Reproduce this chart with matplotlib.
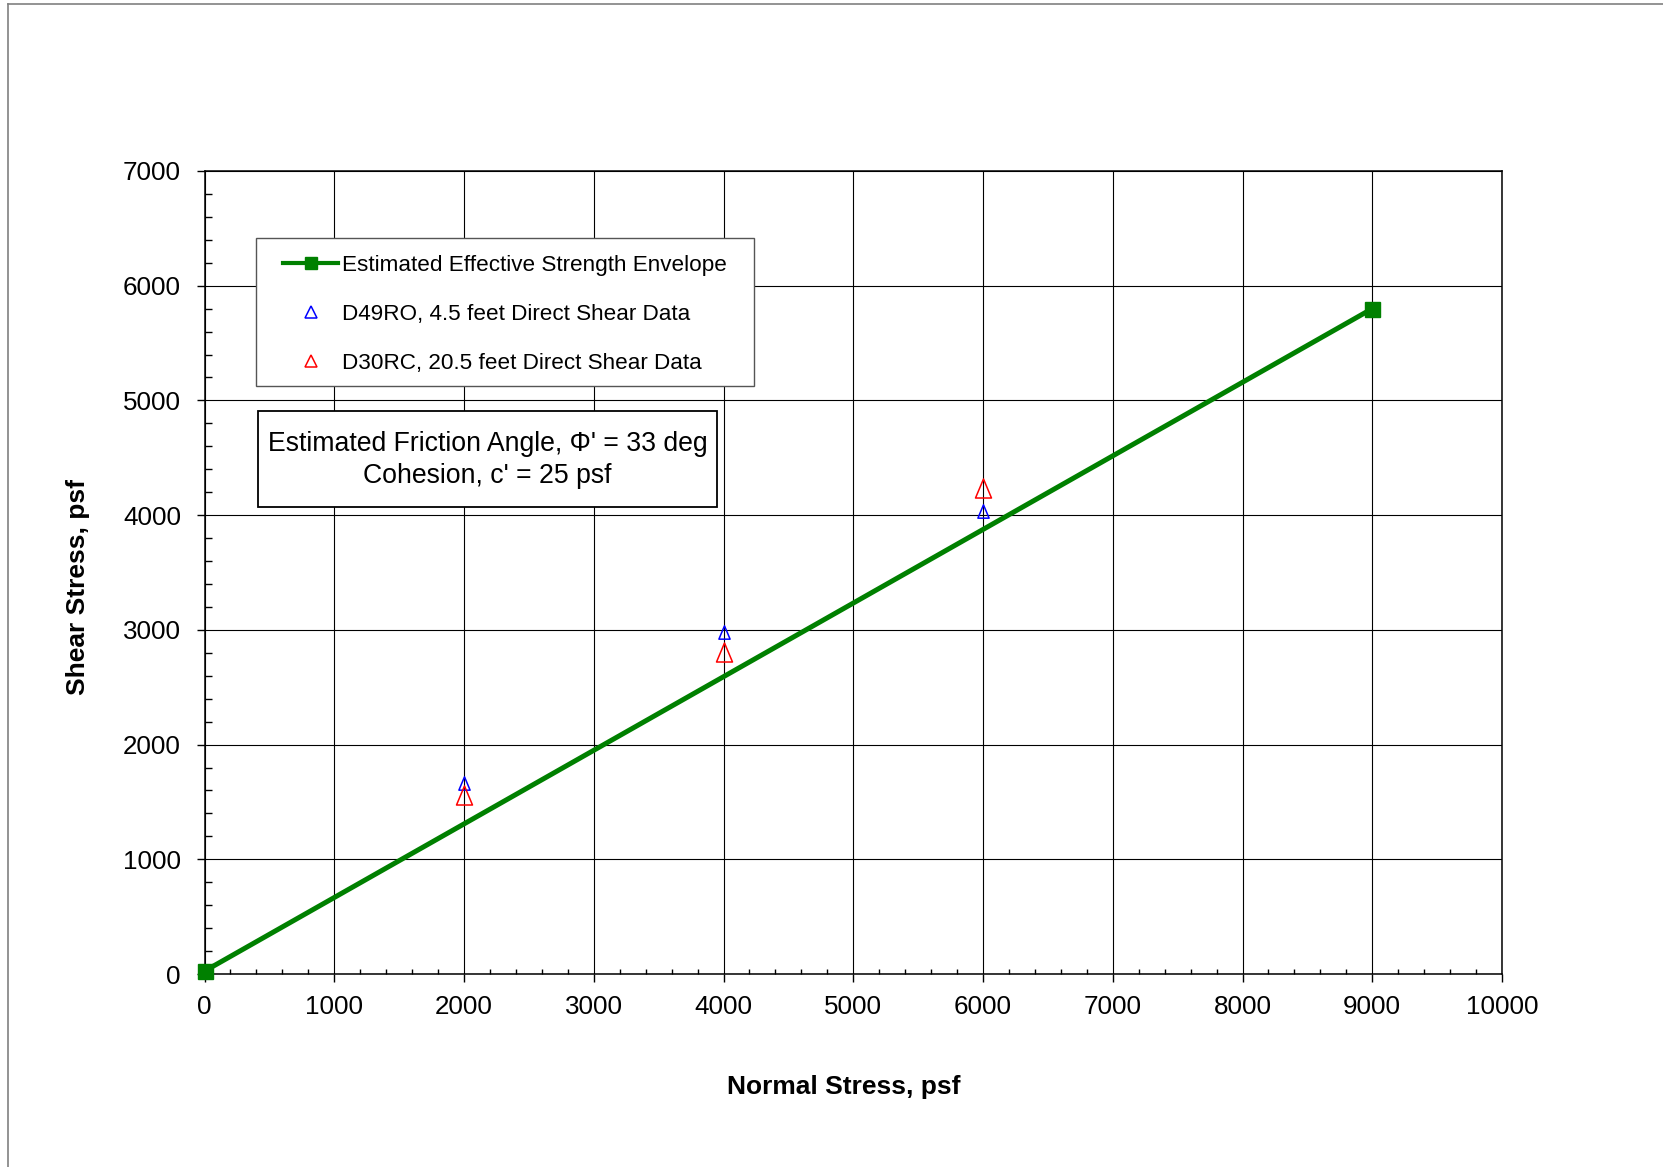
import matplotlib
matplotlib.use("Agg")
import matplotlib.pyplot as plt
from matplotlib.lines import Line2D
from matplotlib.patches import Rectangle
from matplotlib.path import Path
import numpy as np

plt.rcParams['font.family'] = ['Liberation Sans', 'DejaVu Sans']

# data
envelope_x = [0, 9000]
envelope_y = [25, 5800]
d49_x = [2000, 4000, 6000]
d49_y = [1665, 2982, 4032]
d30_x = [2000, 4000, 6000]
d30_y = [1562, 2804, 4234]

labels = ['Estimated Effective Strength Envelope',
          'D49RO, 4.5 feet Direct Shear Data',
          'D30RC, 20.5 feet Direct Shear Data']
note = "Estimated Friction Angle, \u03a6' = 33 deg\nCohesion, c' = 25 psf"

W, H = 1663, 1167
fig = plt.figure(figsize=(W / 100, H / 100), dpi=100)

def fx(px):
    return px / W

def fy(py):
    return 1 - py / H

# axes box in pixels (left, top, right, bottom)
L, T, R, B = 204.5, 171, 1502, 974
ax = fig.add_axes([fx(L), fy(B), fx(R) - fx(L), fy(T) - fy(B)])

# tall, slightly narrow triangle like the Excel marker
tri = Path([(-0.42, -0.5), (0.42, -0.5), (0, 0.5), (-0.42, -0.5)],
           [Path.MOVETO, Path.LINETO, Path.LINETO, Path.CLOSEPOLY])

ax.plot(envelope_x, envelope_y, color='#008000', lw=3.6, marker='s',
        markersize=10.8, clip_on=False, zorder=3)
ax.plot(d49_x, d49_y, ls='none', marker=tri, markersize=9.6, mfc='none',
        mec='blue', mew=1.1, zorder=4)
ax.plot(d30_x, d30_y, ls='none', marker=tri, markersize=13.7, mfc='none',
        mec='red', mew=1.1, zorder=4)

ax.set_xlim(0, 10000)
ax.set_ylim(0, 7000)
ax.set_xticks(np.arange(0, 10001, 1000))
ax.set_yticks(np.arange(0, 7001, 1000))
ax.set_xticks(np.arange(0, 10001, 200), minor=True)
ax.set_yticks(np.arange(0, 7001, 200), minor=True)
ax.grid(True, which='major', color='black', lw=0.8)
ax.set_axisbelow(True)

ax.tick_params(which='major', direction='out', length=6, width=1,
               labelsize=18.7)
ax.tick_params(axis='y', which='major', pad=11)
ax.tick_params(axis='x', which='major', pad=9)
ax.tick_params(axis='x', which='minor', direction='in', length=3.7, width=1)
ax.tick_params(axis='y', which='minor', direction='in', length=4.8, width=1)
for sp in ax.spines.values():
    sp.set_linewidth(1.1)
    sp.set_color('black')

fig.text(fx(844), fy(1087), 'Normal Stress, psf', fontsize=19,
         fontweight='bold', ha='center', va='center')
fig.text(fx(78), fy(587), 'Shear Stress, psf', fontsize=19,
         fontweight='bold', ha='center', va='center', rotation=90)

# legend box + legend
fig.add_artist(Rectangle((fx(255.9), fy(385.7)), fx(754.4) - fx(255.9),
                         fy(237.7) - fy(385.7), transform=fig.transFigure,
                         facecolor='white', edgecolor='#555555', lw=1.0,
                         zorder=4))
handles = [
    Line2D([], [], color='#008000', lw=3.0, marker='s', markersize=9),
    Line2D([], [], ls='none', marker='^', markersize=8.4, mfc='none',
           mec='blue', mew=1.1),
    Line2D([], [], ls='none', marker='^', markersize=8.4, mfc='none',
           mec='red', mew=1.1),
]
fig.legend(handles, labels, loc='upper left',
           bbox_to_anchor=(fx(283.3), fy(254.5)), frameon=False,
           borderpad=0, borderaxespad=0, fontsize=16.2, handlelength=2.43,
           handletextpad=0.18, labelspacing=1.25)

# friction angle note
fig.add_artist(Rectangle((fx(257.9), fy(506.7)), fx(717.3) - fx(257.9),
                         fy(411) - fy(506.7), transform=fig.transFigure,
                         facecolor='white', edgecolor='black', lw=1.3,
                         zorder=4))
fig.text(fx(487.6), fy(460), note, fontsize=19.2, ha='center', va='center',
         linespacing=1.32, zorder=5)

# outer frame (only left and top edges visible)
fig.add_artist(Line2D([fx(8), fx(8)], [fy(4), 0], transform=fig.transFigure,
                      color='#808080', lw=1.2))
fig.add_artist(Line2D([fx(8), 1], [fy(4), fy(4)], transform=fig.transFigure,
                      color='#808080', lw=1.2))

fig.savefig('out.png', dpi=100, facecolor='white')
